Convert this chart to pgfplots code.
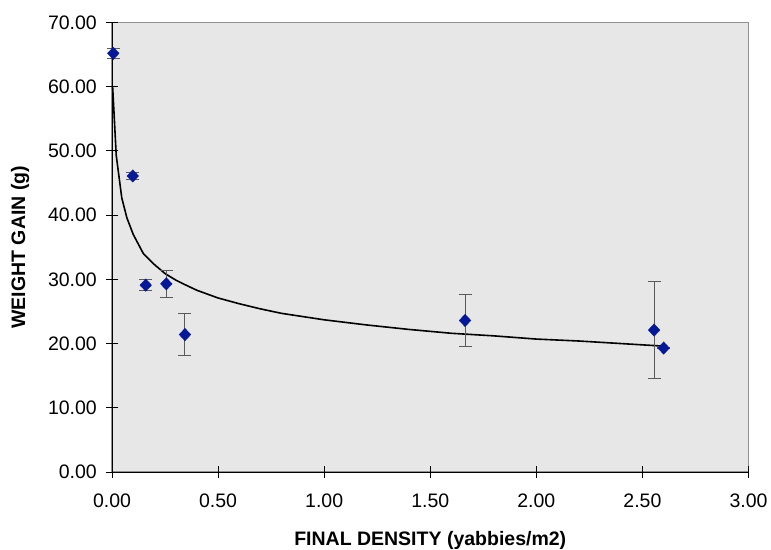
\documentclass[border=0pt]{standalone}
\usepackage{fontspec}
\setmainfont{Liberation Sans}
\usepackage{pgfplots}
\pgfplotsset{compat=1.18}
\definecolor{bggray}{RGB}{231,231,231}
\definecolor{framegray}{RGB}{145,145,145}
\definecolor{ptblue}{RGB}{5,25,150}
\definecolor{errgray}{RGB}{90,90,90}
\begin{document}
\fontsize{19.5bp}{23bp}\selectfont
\begin{tikzpicture}
\path[use as bounding box] (0,0) rectangle (771bp,550bp);
\begin{axis}[
  at={(112bp,78bp)}, anchor=south west,
  scale only axis,
  width=636.5bp, height=449.5bp,
  xmin=0, xmax=3, ymin=0, ymax=70,
  xtick={0,0.5,...,3}, ytick={0,10,...,70},
  axis x line*=bottom, axis y line*=left,
  axis line style={black, line width=0.9bp, -},
  axis background/.style={fill=bggray, draw=framegray, line width=1.2bp},
  tick align=center, major tick length=11bp,
  tick style={black, line width=0.9bp},
  /pgf/number format/.cd, fixed, fixed zerofill, precision=2, assume math mode=true,
  /pgfplots/.cd,
  ticklabel style={font=\fontsize{19.5bp}{23bp}\selectfont},
  xticklabel style={yshift=-10bp},
  yticklabel style={xshift=-3bp},
  every axis x label/.style={at={(axis description cs:0.5,-0.1513)}, anchor=center,
     font=\bfseries\fontsize{19.5bp}{23bp}\selectfont},
  every axis y label/.style={at={(axis description cs:-0.1445,0.5)}, anchor=center, rotate=90,
     font=\bfseries\fontsize{19.5bp}{23bp}\selectfont},
  xlabel={FINAL DENSITY (yabbies/m2)},
  ylabel={WEIGHT GAIN (g)},
  clip=false,
]
\addplot[black, line width=1.6bp, no marks] coordinates {
 (0.003,60.0) (0.020,49.3) (0.046,42.7) (0.070,39.6)
 (0.100,37.0) (0.148,34.0) (0.200,32.3) (0.250,30.9) (0.300,29.9) (0.336,29.3)
 (0.400,28.3) (0.500,27.1) (0.600,26.2) (0.700,25.4) (0.800,24.7) (0.900,24.2)
 (1.000,23.7) (1.200,22.9) (1.400,22.2) (1.600,21.6) (1.800,21.2) (2.000,20.7)
 (2.200,20.4) (2.400,20.0) (2.600,19.6)
};
\addplot[only marks, mark=diamond*, mark size=6.2bp, color=ptblue,
  mark options={xscale=1.25},
  error bars/.cd, y dir=both, y explicit,
  error bar style={errgray, line width=1bp},
  error mark options={errgray, line width=1bp, mark size=6.5bp, rotate=90}]
 coordinates {
 (0.006,65.2) +- (0,0.73)
 (0.098,46.1) +- (0,0.57)
 (0.159,29.1) +- (0,0.85)
 (0.256,29.3) +- (0,2.15)
 (0.344,21.4) +- (0,3.3)
 (1.664,23.6) +- (0,4.05)
 (2.555,22.1) +- (0,7.5)
 (2.600,19.3) +- (0,0.1)
};
\end{axis}
\end{tikzpicture}
\end{document}
